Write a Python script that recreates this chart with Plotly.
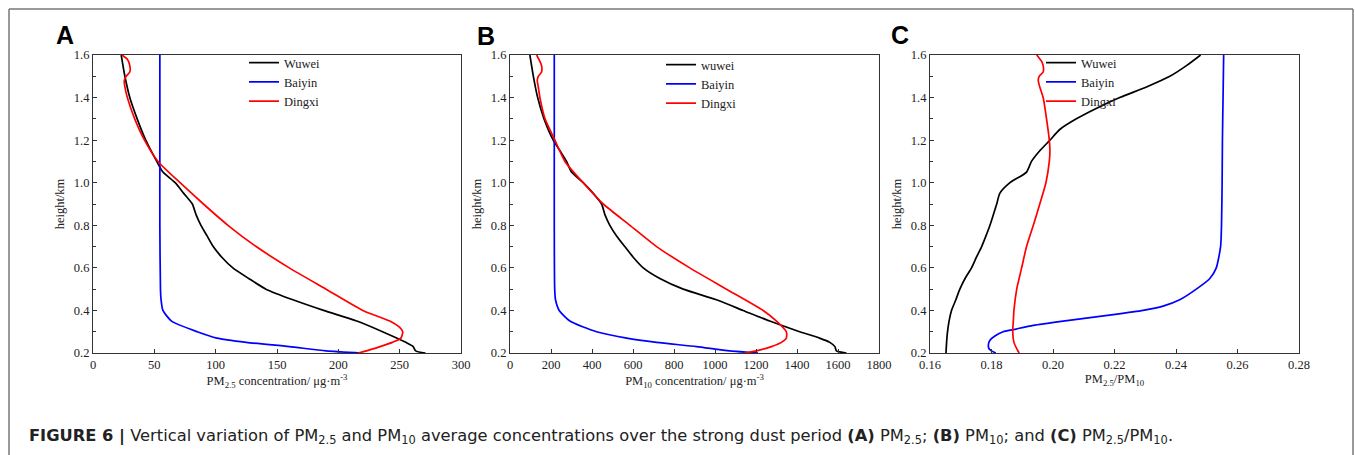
import plotly.graph_objects as go

W, H = 1355, 455

# ---------------- data ----------------
# Panel A: PM2.5 concentration (ug/m3) vs height (km)
a_wuwei_h = [1.6, 1.5, 1.4, 1.3, 1.2, 1.1, 1.05, 1.0, 0.95, 0.9, 0.85, 0.8, 0.75, 0.7, 0.65, 0.6,
             0.55, 0.5, 0.45, 0.4, 0.35, 0.3, 0.25, 0.23, 0.21, 0.2]
a_wuwei_v = [23, 26, 30, 36, 43, 52, 57, 67, 74, 81, 84, 88, 93, 98, 105, 114,
             127, 141, 163, 188, 215, 236, 255, 261, 263, 271]
a_baiyin_h = [1.6, 1.2, 0.8, 0.5, 0.45, 0.4, 0.35, 0.3, 0.27, 0.25, 0.23, 0.21, 0.2]
a_baiyin_v = [54.5, 54.5, 54.5, 55, 55.5, 57, 64, 85, 101, 125, 160, 190, 219]
a_dingxi_h = [1.6, 1.58, 1.55, 1.52, 1.5, 1.48, 1.45, 1.4, 1.3, 1.2, 1.1, 1.0, 0.9, 0.8, 0.7,
              0.6, 0.5, 0.4, 0.35, 0.32, 0.3, 0.27, 0.25, 0.23, 0.21, 0.2]
a_dingxi_v = [23.6, 28, 30, 30, 27, 25.5, 26, 28, 34, 42, 53, 71, 90, 110, 133,
              160, 190, 220, 242, 250, 252.5, 251, 244, 234, 223, 216]

# Panel B: PM10 concentration (ug/m3) vs height (km)
b_wuwei_h = [1.6, 1.5, 1.4, 1.3, 1.2, 1.15, 1.1, 1.05, 1.0, 0.95, 0.9, 0.85, 0.8, 0.75, 0.7, 0.65,
             0.6, 0.55, 0.5, 0.45, 0.4, 0.35, 0.3, 0.27, 0.25, 0.23, 0.21, 0.2]
b_wuwei_v = [97, 114, 135, 166, 211, 244, 276, 300, 357, 406, 447, 463, 487, 520, 560, 601,
             650, 731, 845, 1007, 1137, 1267, 1413, 1510, 1560, 1585, 1592, 1641]
b_baiyin_h = [1.6, 1.2, 0.8, 0.5, 0.45, 0.4, 0.35, 0.3, 0.27, 0.25, 0.23, 0.21, 0.2]
b_baiyin_v = [216, 216, 216, 218, 222, 240, 292, 422, 569, 715, 910, 1072, 1210]
b_dingxi_h = [1.6, 1.57, 1.55, 1.52, 1.5, 1.48, 1.45, 1.4, 1.3, 1.2, 1.1, 1.0, 0.9, 0.8, 0.7,
              0.6, 0.5, 0.4, 0.35, 0.3, 0.27, 0.25, 0.23, 0.21, 0.2]
b_dingxi_v = [130, 146, 154, 154, 138, 133, 138, 146, 171, 219, 268, 357, 455, 585, 715,
              877, 1056, 1235, 1300, 1348, 1348, 1324, 1275, 1202, 1145]

# Panel C: PM2.5/PM10 ratio vs height (km)
c_wuwei_h = [1.6, 1.55, 1.5, 1.45, 1.4, 1.35, 1.3, 1.25, 1.2, 1.15, 1.1, 1.05, 1.0, 0.95, 0.9,
             0.85, 0.8, 0.75, 0.7, 0.65, 0.6, 0.55, 0.5, 0.45, 0.4, 0.35, 0.3, 0.25, 0.2]
c_wuwei_v = [0.2480, 0.2434, 0.2380, 0.2304, 0.2217, 0.2142, 0.2076, 0.2022, 0.1990, 0.1957,
             0.1930, 0.1914, 0.1860, 0.1827, 0.1817, 0.1806, 0.1795, 0.1782, 0.1768, 0.1751,
             0.1735, 0.1714, 0.1697, 0.1684, 0.1670, 0.1662, 0.1657, 0.1654, 0.1652]
c_baiyin_h = [1.6, 1.4, 1.2, 1.0, 0.8, 0.7, 0.6, 0.55, 0.5, 0.45, 0.42, 0.4, 0.38, 0.35, 0.33,
              0.31, 0.3, 0.28, 0.26, 0.24, 0.22, 0.21, 0.2]
c_baiyin_v = [0.2555, 0.2553, 0.2551, 0.2550, 0.2548, 0.2545, 0.2531, 0.2510, 0.2466, 0.2412,
              0.2358, 0.2293, 0.2196, 0.2033, 0.1936, 0.1871, 0.1838, 0.1811, 0.1795, 0.1790,
              0.1792, 0.1800, 0.1814]
c_dingxi_h = [1.6, 1.57, 1.55, 1.52, 1.5, 1.48, 1.45, 1.4, 1.3, 1.2, 1.15, 1.1, 1.0, 0.9, 0.8,
              0.7, 0.6, 0.5, 0.4, 0.35, 0.3, 0.25, 0.22, 0.2]
c_dingxi_v = [0.1947, 0.1963, 0.1968, 0.1968, 0.1955, 0.1952, 0.1957, 0.1968, 0.1979, 0.1988,
              0.1990, 0.1988, 0.1977, 0.1957, 0.1936, 0.1914, 0.1898, 0.1882, 0.1873, 0.1871,
              0.1869, 0.1873, 0.1882, 0.1890]

series_names_a = ["Wuwei", "Baiyin", "Dingxi"]
series_names_b = ["wuwei", "Baiyin", "Dingxi"]
series_names_c = ["Wuwei", "Baiyin", "Dingxi"]
colors = ["#000000", "#0000ff", "#ff0000"]

x_titles = ["PM<sub>2.5</sub> concentration/ μg·m<sup>-3</sup>",
            "PM<sub>10</sub> concentration/ μg·m<sup>-3</sup>",
            "PM<sub>2.5</sub>/PM<sub>10</sub>"]
y_title = "height/km"
panel_labels = ["A", "B", "C"]
x_ranges = [[0, 300], [0, 1800], [0.16, 0.28]]
x_dticks = [50, 200, 0.02]
x_formats = ["d", "d", ".2f"]
caption = ("<b>FIGURE 6 |</b> Vertical variation of PM<sub>2.5</sub> and PM<sub>10</sub> average "
           "concentrations over the strong dust period <b>(A)</b> PM<sub>2.5</sub>; <b>(B)</b> "
           "PM<sub>10</sub>; and <b>(C)</b> PM<sub>2.5</sub>/PM<sub>10</sub>.")

# ---------------- layout geometry (pixels) ----------------
px_left = [93, 510, 930]
px_right = [461, 879, 1299]
px_top, px_bottom = 55, 353
legend_px = [(244, 48), (661, 50), (1041, 48)]
label_px = [(65, 35), (486, 36), (900, 35)]

fig = go.Figure()

panels = [
    [(a_wuwei_v, a_wuwei_h), (a_baiyin_v, a_baiyin_h), (a_dingxi_v, a_dingxi_h)],
    [(b_wuwei_v, b_wuwei_h), (b_baiyin_v, b_baiyin_h), (b_dingxi_v, b_dingxi_h)],
    [(c_wuwei_v, c_wuwei_h), (c_baiyin_v, c_baiyin_h), (c_dingxi_v, c_dingxi_h)],
]
names = [series_names_a, series_names_b, series_names_c]

serif = "Liberation Serif, Times New Roman, serif"
sans = "Liberation Sans, Arial, sans-serif"

for i, panel in enumerate(panels):
    ax = "" if i == 0 else str(i + 1)
    leg = "legend" if i == 0 else f"legend{i+1}"
    for j, (xv, yv) in enumerate(panel):
        fig.add_trace(go.Scatter(
            x=xv, y=yv, mode="lines", name=names[i][j],
            line=dict(color=colors[j], width=1.7, shape="spline", smoothing=0.6),
            xaxis="x" + ax, yaxis="y" + ax, legend=leg,
        ))
    xd = [px_left[i] / W, px_right[i] / W]
    yd = [1 - px_bottom / H, 1 - px_top / H]
    axis_common = dict(showline=True, linecolor="#333333", linewidth=1.2, mirror=True,
                       ticks="inside", ticklen=4, tickcolor="#333333", showgrid=False,
                       zeroline=False, automargin=False,
                       tickfont=dict(family=serif, size=12.5, color="#222222"))
    fig.layout["xaxis" + ax] = dict(
        domain=xd, anchor="y" + ax, range=x_ranges[i], dtick=x_dticks[i],
        tick0=x_ranges[i][0], tickformat=x_formats[i],
        title=dict(text=x_titles[i], font=dict(family=serif, size=12.5, color="#222222"), standoff=2),
        **axis_common)
    fig.layout["yaxis" + ax] = dict(
        domain=yd, anchor="x" + ax, range=[0.2, 1.6], dtick=0.2, tick0=0.2, tickformat=".1f",
        minor=dict(ticks="inside", dtick=0.1, ticklen=2.5, tickcolor="#333333"),
        title=dict(text=y_title, font=dict(family=serif, size=12.5, color="#222222"), standoff=6),
        **axis_common)
    lx, ly = legend_px[i]
    fig.layout[leg] = dict(x=lx / W, y=1 - ly / H, xanchor="left", yanchor="top",
                           bgcolor="rgba(0,0,0,0)", borderwidth=0,
                           font=dict(family=serif, size=12.5, color="#222222"),
                           itemwidth=30, tracegroupgap=0)
    fig.add_annotation(x=label_px[i][0] / W, y=1 - label_px[i][1] / H, xref="paper", yref="paper",
                       text="<b>" + panel_labels[i] + "</b>", showarrow=False,
                       font=dict(family=sans, size=25, color="#000000"),
                       xanchor="center", yanchor="middle")

fig.add_annotation(x=27 / W, y=1 - 436.5 / H, xref="paper", yref="paper", text=caption,
                   showarrow=False, xanchor="left", yanchor="middle",
                   font=dict(family="DejaVu Sans, sans-serif", size=16.3, color="#222222"))

# outer frame (open at bottom)
frame_col = "#777777"
fig.add_shape(type="line", xref="paper", yref="paper", x0=9 / W, x1=9 / W, y0=-0.05, y1=1 - 9 / H,
              line=dict(color=frame_col, width=1.5))
fig.add_shape(type="line", xref="paper", yref="paper", x0=9 / W, x1=1353 / W, y0=1 - 9 / H, y1=1 - 9 / H,
              line=dict(color=frame_col, width=1.5))
fig.add_shape(type="line", xref="paper", yref="paper", x0=1353 / W, x1=1353 / W, y0=-0.05, y1=1 - 9 / H,
              line=dict(color=frame_col, width=1.5))

fig.update_layout(width=W, height=H, margin=dict(l=0, r=0, t=0, b=0),
                  paper_bgcolor="white", plot_bgcolor="white", showlegend=True)

fig.write_html("out.html", config={"displayModeBar": False},
               post_script="document.body.style.margin='0px';document.body.style.overflow='hidden';")
